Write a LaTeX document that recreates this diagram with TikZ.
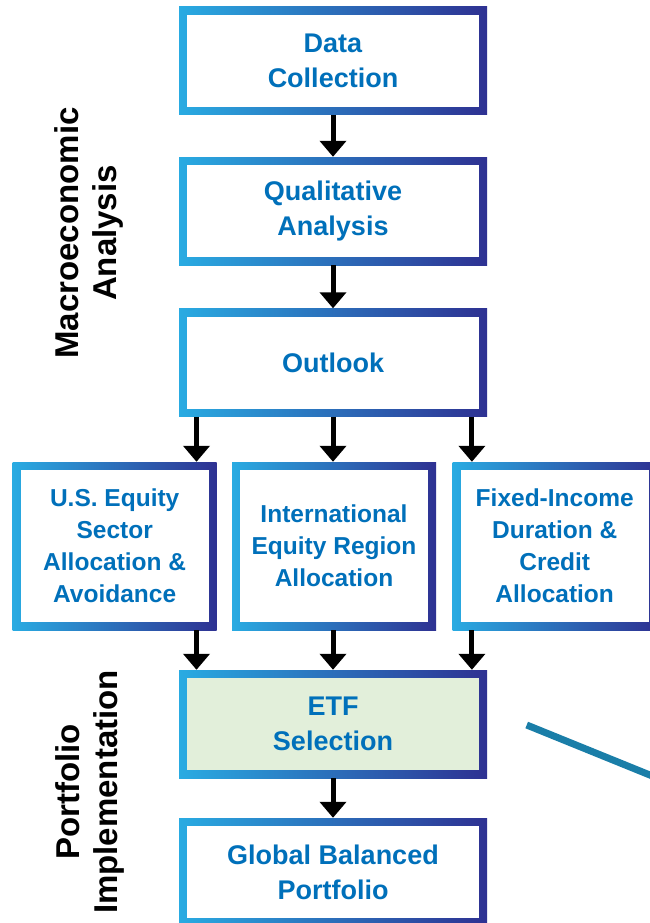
\documentclass[tikz,border=0pt]{standalone}
\usepackage{fontspec}
\setmainfont{Liberation Sans}
\usetikzlibrary{arrows.meta}
\definecolor{cL}{RGB}{41,171,226}
\definecolor{cD}{RGB}{46,49,146}
\definecolor{txt}{RGB}{0,112,186}
\definecolor{etfg}{RGB}{226,239,218}
\definecolor{diag}{RGB}{26,126,168}
\begin{document}
\begin{tikzpicture}[x=1pt,y=-1pt,
  gbox/.style={rectangle, inner sep=0pt, left color=cL, right color=cD,
    text=txt, align=center,
    path picture={\fill[#1] ([shift={(8pt,8pt)}]path picture bounding box.south west)
      rectangle ([shift={(-8pt,-8pt)}]path picture bounding box.north east);}},
  gbox/.default=white,
  wide/.style={minimum width=308pt, minimum height=108pt,
    font=\bfseries\fontsize{27}{35}\selectfont},
  tall/.style={minimum width=204pt, minimum height=168pt,
    font=\bfseries\fontsize{24.5}{32}\selectfont},
  side/.style={rotate=90, align=center, text=black,
    font=\bfseries\fontsize{33}{38}\selectfont},
  arr/.style={line width=5pt, -{Triangle[width=26pt,length=16pt]}},
]
\useasboundingbox (0,0) rectangle (650,923);
\fill[white] (0,0) rectangle (650,923);

\node[gbox, wide] (data) at (333,60.75) {Data\\Collection};
\node[gbox, wide] (qual) at (333,211) {Qualitative\\Analysis};
\node[gbox, wide] (outlook) at (333,362.5) {Outlook};
\node[gbox, tall] (us) at (114.7,546) {U.S. Equity\\Sector\\Allocation \&\\Avoidance};
\node[gbox, tall] (intl) at (334,546) {International\\Equity Region\\Allocation};
\node[gbox, tall] (fixed) at (554.7,546) {Fixed-Income\\Duration \&\\Credit\\Allocation};
\node[gbox=etfg, wide] (etf) at (333,724) {ETF\\Selection};
\node[gbox, wide] (global) at (333,872) {Global Balanced\\Portfolio};

\node[side] (macro) at (88.5,233) {Macroeconomic\\Analysis};
\node[side] (port) at (90,792) {Portfolio\\Implementation};

\coordinate (a1) at ([xshift=17.7pt]outlook.south west);
\coordinate (a3) at ([xshift=-15.3pt]outlook.south east);

\draw[arr] (data.south) -- (qual.north);
\draw[arr] (qual.south) -- (outlook.north);
\draw[arr] (a1) -- (a1 |- us.north);
\draw[arr] (outlook.south) -- (outlook.south |- intl.north);
\draw[arr] (a3) -- (a3 |- fixed.north);
\draw[arr] (a1 |- us.south) -- (a1 |- etf.north);
\draw[arr] (etf.north |- intl.south) -- (etf.north);
\draw[arr] (a3 |- fixed.south) -- (a3 |- etf.north);
\draw[arr] (etf.south) -- (global.north);

\draw[diag, line width=7pt] (526.7,725) -- (690,791.3);
\end{tikzpicture}
\end{document}
